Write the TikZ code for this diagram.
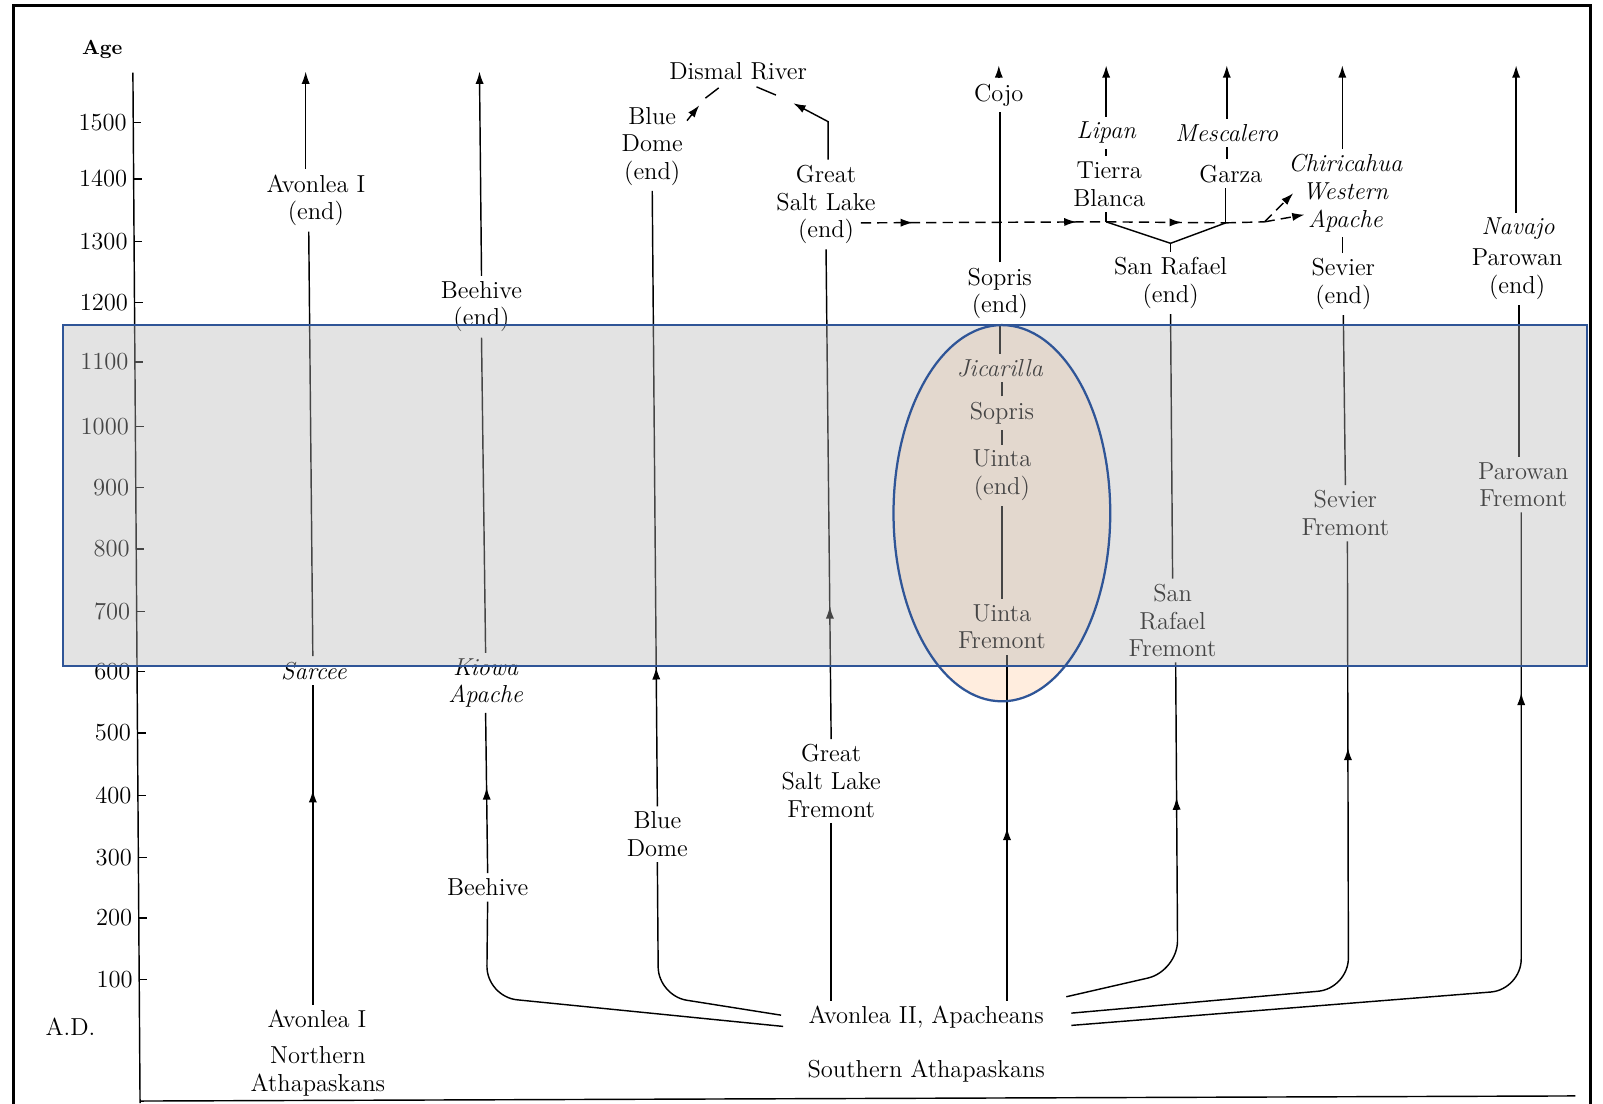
\documentclass[tikz,border=0pt]{standalone}
\usepackage{fontspec}
\usetikzlibrary{arrows.meta,decorations.markings}
\definecolor{bandblue}{HTML}{2F5597}
\definecolor{bandgray}{HTML}{B6B6B6}
\definecolor{peach}{HTML}{FFEDDE}
\begin{document}
\begin{tikzpicture}[x=0.5pt,y=-0.5pt,
  lbl/.style={font=\fontsize{12}{13.5}\selectfont, align=center, inner sep=2.5pt},
  ilbl/.style={lbl, font=\fontsize{12}{13.5}\selectfont\itshape},
  ticklbl/.style={font=\fontsize{12}{13.5}\selectfont, anchor=east, inner sep=0.5pt},
  ln/.style={line width=0.7pt},
  arrowline/.style={-{Latex[length=6pt,width=4pt]}},
  dashln/.style={dash pattern=on 5pt off 3pt},
  tipat/.style={postaction={decorate}, decoration={markings, mark=at position #1 with {\arrow{Latex[length=6pt,width=4pt]}}}},
  twotips/.style 2 args={postaction={decorate}, decoration={markings,
      mark=at position #1 with {\arrow{Latex[length=6pt,width=4pt]}},
      mark=at position #2 with {\arrow{Latex[length=6pt,width=4pt]}}}},
]
\clip (0,0) rectangle (1568,1079);
\fill[white] (0,0) rectangle (1568,1079);

% highlighted ellipse (fill, behind content)
\fill[peach] (980,502) ellipse [x radius=53pt, y radius=92pt];

% ---------------- axis ----------------
\coordinate (axtop) at (130,71);
\coordinate (axbot) at (137,1079);
\draw[ln] (axtop) -- (axbot);
\foreach \v/\yy in {1500/120,1400/175,1300/236,1200/296,1100/354,1000/417,900/477,800/537,700/598,600/657,500/717,400/778,300/839,200/898,100/958}{
  \pgfmathsetmacro\ax{130+(\yy-71)*7/1008}
  \draw[ln] (\ax,\yy) -- ++(8,0);
  \node[ticklbl] (t\v) at (\ax-5,\yy) {\v};
}
\node[font=\fontsize{10}{12}\selectfont\bfseries, inner sep=1pt] (age) at (100,48) {Age};
\node[lbl] (ad) at (69,1004) {A.D.};

% ---------------- column 1: Avonlea I ----------------
\node[lbl] (a1end) at (309,196) {Avonlea I\\(end)};
\node[ilbl] (sarcee) at (307,656) {Sarcee};
\node[lbl] (a1) at (310,997) {Avonlea I};
\node[lbl] (northath) at (311,1048) {Northern\\Athapaskans};
\coordinate (c1top) at (299,70);
\coordinate (c1x) at (302,0);
\coordinate (c1y) at (306,0);
\draw[ln,arrowline] (a1end.north -| c1top) -- (c1top);
\draw[ln] (sarcee.north -| c1y) -- (a1end.south -| c1x);
\draw[ln,tipat=105pt] (a1.north -| c1y) -- (sarcee.south -| c1y);

% ---------------- column 2: Beehive ----------------
\node[lbl] (bhend) at (471,300) {Beehive\\(end)};
\node[ilbl] (kiowa) at (475,668) {Kiowa\\Apache};
\node[lbl] (bh) at (477,868) {Beehive};
\coordinate (c2top) at (469,70);
\draw[ln,arrowline] (bhend.north) -- (c2top);
\draw[ln] (kiowa.north) -- (bhend.south);
\draw[ln,tipat=42pt] (bh.north) -- (kiowa.south);

% ---------------- Avonlea II ----------------
\node[lbl] (av2) at (906,995) {Avonlea II, Apacheans};
\node[lbl] (southath) at (906,1048) {Southern Athapaskans};
\coordinate (avL1) at (766,1004);
\coordinate (avL2) at (764,993);
\coordinate (avR1) at (1043,975);
\coordinate (avR2) at (1048,991);
\coordinate (avR3) at (1048,1003);
\draw[ln,rounded corners=15pt] (bh.south) -- (476,975) -- (avL1);

% ---------------- column 3: Blue Dome ----------------
\node[lbl] (dismal) at (722,70) {Dismal River};
\node[lbl] (bdend) at (638,143) {Blue\\Dome\\(end)};
\node[lbl] (bd) at (643,816) {Blue\\Dome};
\draw[ln,tipat=68pt] (bd.north) -- (bdend.south);
\draw[ln,rounded corners=14pt] (bd.south) -- (644,974) -- (avL2);
\coordinate (bdd0) at (672,118);
\coordinate (bdd1) at (684,103);
\coordinate (bdd2) at (690,96);
\coordinate (dr1) at (703,86);
\draw[ln,arrowline] (bdd0) -- (bdd1);
\draw[ln] (bdd2) -- (dr1);

% ---------------- column 4: Great Salt Lake ----------------
\node[lbl] (gslend) at (808,200) {Great\\Salt Lake\\(end)};
\node[lbl] (gsl) at (813,764) {Great\\Salt Lake\\Fremont};
\draw[ln,tipat=65pt] (gsl.north) -- (gslend.south);
\draw[ln] (gsl.south) -- (gsl.south |- av2.north);
\coordinate (gslk) at (810,119);
\coordinate (gsla) at (776,101);
\coordinate (gslb) at (759,93);
\coordinate (dr2) at (740,85);
\draw[ln,arrowline] (gslend.north -| gslk) -- (gslk) -- (gsla);
\draw[ln] (gslb) -- (dr2);

% dashed link eastwards
\coordinate (h0) at (842,218);
\coordinate (tbj) at (1082,217);
\coordinate (gzj) at (1199,218);
\coordinate (fork) at (1237,217);
\coordinate (apex) at (1145,238);
\coordinate (chirtip) at (1265,189);
\coordinate (apatip) at (1276,210);
\draw[ln,dashln,twotips={25.5pt}{105.5pt}] (h0) -- (tbj);
\draw[ln,dashln,tipat=37pt] (tbj) -- (gzj);
\draw[ln,dashln] (gzj) -- (fork);
\draw[ln,dashln,arrowline] (fork) -- (chirtip);
\draw[ln,dashln,arrowline] (fork) -- (apatip);

% ---------------- column 5: Sopris / Uinta ----------------
\node[lbl] (cojo) at (977,93) {Cojo};
\node[lbl] (sopend) at (978,287) {Sopris\\(end)};
\node[ilbl] (jic) at (978,360) {Jicarilla};
\node[lbl] (sop2) at (980,404) {Sopris};
\node[lbl] (uend) at (980,465) {Uinta\\(end)};
\node[lbl] (uf) at (980,613) {Uinta\\Fremont};
\coordinate (c5top) at (977,64);
\coordinate (c5x) at (978,0);
\coordinate (c5z) at (980,0);
\draw[ln,arrowline] (cojo.north) -- (c5top);
\draw[ln] (sopend.north -| c5x) -- (cojo.south -| c5x);
\draw[ln] (jic.north -| c5x) -- (sopend.south -| c5x);
\draw[ln] (sop2.north -| c5z) -- (jic.south -| c5z);
\draw[ln] (uend.north) -- (sop2.south);
\draw[ln] (uf.north) -- (uend.south);
\coordinate (c5b) at (985,0);
\draw[ln,tipat=84.5pt] (av2.north -| c5b) -- (uf.south -| c5b);

% ---------------- column 6: San Rafael ----------------
\node[ilbl] (lipan) at (1082,130) {Lipan};
\node[lbl] (tblanca) at (1085,180) {Tierra\\Blanca};
\node[ilbl] (mesc) at (1200,130) {Mescalero};
\node[lbl] (garza) at (1204,170) {Garza};
\node[lbl] (srend) at (1145,277) {San Rafael\\(end)};
\node[lbl] (srf) at (1147,607) {San\\Rafael\\Fremont};
\coordinate (c6a) at (1082,64);
\coordinate (c6b) at (1200,64);
\draw[ln,arrowline] (lipan.north) -- (c6a);
\draw[ln] (lipan.south) -- (lipan.south |- tblanca.north);
\draw[ln] (tbj) -- (tbj |- tblanca.south);
\draw[ln,arrowline] (mesc.north) -- (c6b);
\draw[ln] (mesc.south) -- (mesc.south |- garza.north);
\draw[ln] (gzj) -- (garza.south -| gzj);
\draw[ln] (tbj) -- (apex) -- (gzj);
\draw[ln] (apex) -- (srend.north -| apex);
\draw[ln] (srf.north) -- (srend.south);
\draw[ln,rounded corners=15pt,tipat=136pt] (avR1) -- (1152,950) -- (srf.south -| 1150,0);

% ---------------- column 7: Sevier ----------------
\node[ilbl] (chir) at (1316,189) {Chiricahua\\Western\\Apache};
\node[lbl] (sevend) at (1314,278) {Sevier\\(end)};
\node[lbl] (sevf) at (1316,502) {Sevier\\Fremont};
\coordinate (c7top) at (1313,64);
\draw[ln,arrowline] (chir.north -| c7top) -- (c7top);
\draw[ln] (sevend.north -| c7top) -- (chir.south -| c7top);
\draw[ln] (sevf.north) -- (sevend.south);
\draw[ln,rounded corners=15pt,tipat=248pt] (avR2) -- (1319,967) -- (sevf.south -| 1318,0);

% ---------------- column 8: Parowan ----------------
\node[ilbl] (navajo) at (1485,224) {Navajo};
\node[lbl] (parend) at (1484,268) {Parowan\\(end)};
\node[lbl] (parf) at (1490,474) {Parowan\\Fremont};
\coordinate (c8top) at (1483,64);
\coordinate (c8x) at (1486,0);
\coordinate (c8y) at (1488,0);
\draw[ln,arrowline] (navajo.north -| c8top) -- (c8top);
\draw[ln] (parf.north -| c8x) -- (parend.south -| c8x);
\draw[ln,rounded corners=15pt,tipat=360pt] (avR3) -- (1488,968) -- (parf.south -| c8y);

% bottom rule
\coordinate (baseL) at (137,1077);
\coordinate (baseR) at (1541,1072);
\draw[ln] (baseL) -- (baseR);

% ---------------- highlight overlays ----------------
\fill[bandgray, fill opacity=0.38] (62,318) rectangle (1552,651);
\draw[bandblue, line width=1pt] (62,318) rectangle (1552,651);
\draw[bandblue, line width=1.1pt] (980,502) ellipse [x radius=53pt, y radius=92pt];

% outer frame
\draw[line width=1.4pt] (13,5) rectangle (1556,1100);
\end{tikzpicture}
\end{document}
